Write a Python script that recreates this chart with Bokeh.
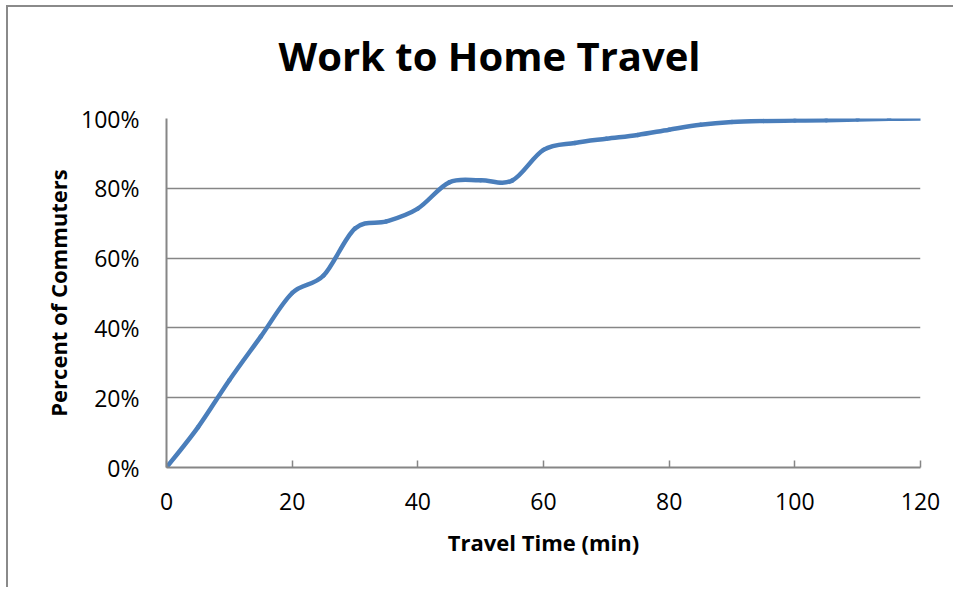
from bokeh.plotting import figure
from bokeh.models import Range1d, FixedTicker, PrintfTickFormatter
from bokeh.embed import file_html
from bokeh.resources import INLINE

# Data (cumulative percent of commuters by travel time)
minutes = [0, 5, 10, 15, 20, 25, 30, 35, 40, 45, 50, 55, 60, 65, 70, 75, 80, 85, 90, 95, 100, 105, 110, 115, 120]
percent = [0, 11.5, 25, 37.5, 50, 55, 68.5, 70.5, 74.2, 81.7, 82.3, 82.2, 91, 93, 94.2, 95.3, 96.8, 98.2, 99.0, 99.3, 99.4, 99.5, 99.7, 99.9, 100]

x_ticks = [0, 20, 40, 60, 80, 100, 120]
y_ticks = [0, 20, 40, 60, 80, 100]

title_text = "Work to Home Travel"
x_label = "Travel Time (min)"
y_label = "Percent of Commuters"

GRAY = "#868686"
BLUE = "#4A7EBB"
FONT = "Open Sans"

p = figure(width=947, height=595, output_backend="svg", toolbar_location=None,
           x_range=Range1d(0, 120), y_range=Range1d(0, 100),
           min_border_left=160, min_border_right=33, min_border_top=126, min_border_bottom=120,
           title=title_text)
# chart-area border (top and left edges) drawn as inset shadows behind a transparent canvas
p.styles = {"margin-left": "6px", "margin-top": "-8px",
            "box-shadow": "inset 0 13px 0 0 #ffffff, inset 2px 15px 0 0 #8a8a8a"}
p.outline_line_color = None
p.background_fill_color = "white"
p.border_fill_color = None

p.title.align = "left"
p.title.vertical_align = "top"
p.title.offset = 112
p.title.standoff = 68
p.title.text_font = FONT
p.title.text_font_style = "bold"
p.title.text_font_size = "40px"
p.title.text_color = "black"

# grid
p.xgrid.grid_line_color = None
p.ygrid.grid_line_color = GRAY
p.ygrid.grid_line_width = 1.5
p.ygrid.ticker = FixedTicker(ticks=y_ticks)

# x axis
p.xaxis.ticker = FixedTicker(ticks=x_ticks)
p.xaxis.axis_line_color = GRAY
p.xaxis.axis_line_width = 2
p.xaxis.major_tick_line_color = GRAY
p.xaxis.major_tick_line_width = 1.5
p.xaxis.major_tick_in = 7
p.xaxis.major_tick_out = 0
p.xaxis.minor_tick_line_color = None
p.xaxis.major_label_text_font = FONT
p.xaxis.major_label_text_font_size = "23px"
p.xaxis.major_label_text_color = "black"
p.xaxis.major_label_standoff = 25
p.xaxis.axis_label = x_label
p.xaxis.axis_label_text_font = FONT
p.xaxis.axis_label_text_font_style = "bold"
p.xaxis.axis_label_text_font_size = "22px"
p.xaxis.axis_label_text_color = "black"
p.xaxis.axis_label_standoff = 14

# y axis
p.yaxis.ticker = FixedTicker(ticks=y_ticks)
p.yaxis.formatter = PrintfTickFormatter(format="%d%%")
p.yaxis.axis_line_color = GRAY
p.yaxis.axis_line_width = 2
p.yaxis.major_tick_line_color = GRAY
p.yaxis.major_tick_in = 0
p.yaxis.major_tick_out = 0
p.yaxis.minor_tick_line_color = None
p.yaxis.major_label_text_font = FONT
p.yaxis.major_label_text_font_size = "23px"
p.yaxis.major_label_text_color = "black"
p.yaxis.major_label_standoff = 27
p.yaxis.axis_label = y_label
p.yaxis.axis_label_text_font = FONT
p.yaxis.axis_label_text_font_style = "bold"
p.yaxis.axis_label_text_font_size = "22px"
p.yaxis.axis_label_text_color = "black"
p.yaxis.axis_label_standoff = 5

# smoothed line (Catmull-Rom style Bezier segments through the data points)
n = len(minutes)
x0, y0, x1, y1, cx0, cy0, cx1, cy1 = [], [], [], [], [], [], [], []
for i in range(n - 1):
    ip = max(i - 1, 0)
    inn = min(i + 2, n - 1)
    x0.append(minutes[i]); y0.append(percent[i])
    x1.append(minutes[i + 1]); y1.append(percent[i + 1])
    cx0.append(minutes[i] + (minutes[i + 1] - minutes[ip]) / 6.0)
    cy0.append(percent[i] + (percent[i + 1] - percent[ip]) / 6.0)
    cx1.append(minutes[i + 1] - (minutes[inn] - minutes[i]) / 6.0)
    cy1.append(percent[i + 1] - (percent[inn] - percent[i]) / 6.0)

p.bezier(x0=x0, y0=y0, x1=x1, y1=y1, cx0=cx0, cy0=cy0, cx1=cx1, cy1=cy1,
         line_color=BLUE, line_width=4.5, line_cap="round")

open("out.html", "w").write(file_html(p, INLINE))
